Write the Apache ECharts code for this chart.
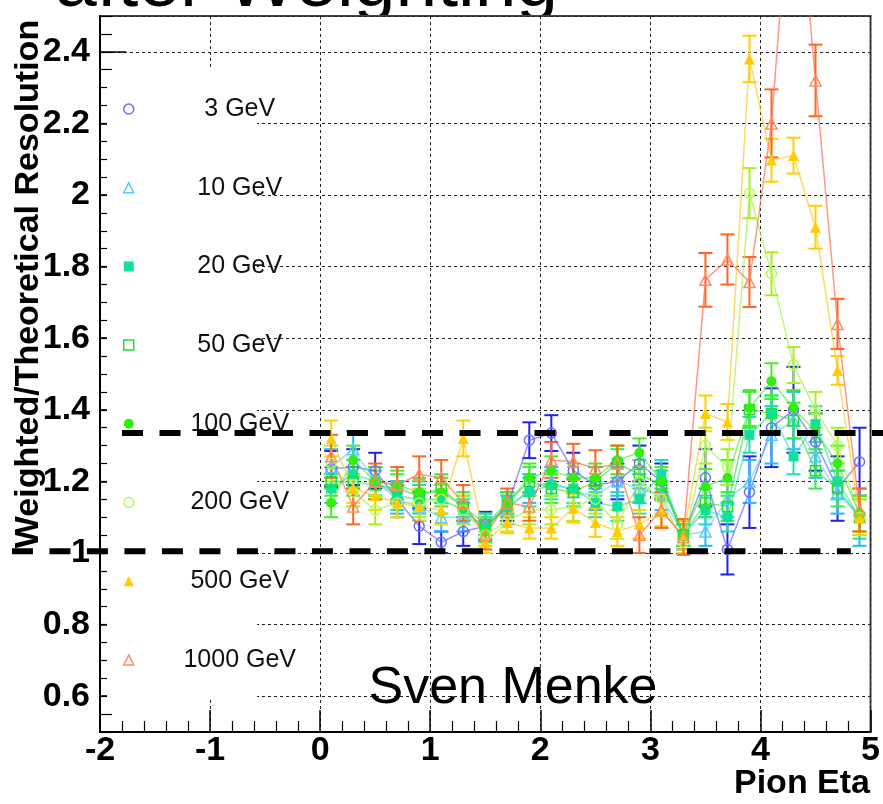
<!DOCTYPE html>
<html><head><meta charset="utf-8">
<script src="https://cdn.jsdelivr.net/npm/echarts@6/dist/echarts.min.js"></script>
<style>html,body{margin:0;padding:0;background:#fff}#c{width:883px;height:804px}</style>
</head><body><div id="c"></div>
<script>
// ---- data ----
const eta = [0.1,0.3,0.5,0.7,0.9,1.1,1.3,1.5,1.7,1.9,2.1,2.3,2.5,2.7,2.9,3.1,3.3,3.5,3.7,3.9,4.1,4.3,4.5,4.7,4.9];
const names = ['3 GeV','10 GeV','20 GeV','50 GeV','100 GeV','200 GeV','500 GeV','1000 GeV'];
const xTicks = [-2,-1,0,1,2,3,4,5];
const yTicks = [0.6,0.8,1,1.2,1.4,1.6,1.8,2,2.2,2.4];
const refLines = [1.335, 1.005];

const v3    = [1.235,1.24,1.23,1.15,1.075,1.03,1.06,1.075,1.13,1.315,1.335,1.23,1.19,1.2,1.25,1.2,1.05,1.21,1.01,1.17,1.35,1.40,1.31,1.18,1.255];
const err3  = [0.05,0.05,0.05,0.05,0.05,0.03,0.04,0.04,0.04,0.05,0.05,0.05,0.05,0.05,0.05,0.05,0.04,0.08,0.07,0.10,0.11,0.12,0.08,0.09,0.095];
const v10   = [1.24,1.29,1.2,1.15,1.13,1.10,1.10,1.08,1.12,1.18,1.20,1.17,1.16,1.20,1.18,1.16,1.05,1.06,1.15,1.20,1.33,1.37,1.27,1.17,1.10];
const err10 = [0.05,0.05,0.04,0.04,0.04,0.04,0.04,0.03,0.04,0.04,0.04,0.04,0.04,0.04,0.04,0.04,0.03,0.04,0.05,0.06,0.08,0.08,0.06,0.06,0.08];
const v20   = [1.18,1.22,1.20,1.16,1.15,1.15,1.12,1.07,1.13,1.17,1.19,1.18,1.14,1.13,1.15,1.22,1.05,1.12,1.10,1.33,1.39,1.27,1.36,1.20,1.10];
const err20 = [0.04,0.04,0.04,0.04,0.04,0.04,0.03,0.03,0.03,0.04,0.04,0.04,0.04,0.04,0.04,0.04,0.03,0.04,0.04,0.05,0.05,0.05,0.05,0.05,0.06];
const v50   = [1.20,1.20,1.19,1.18,1.16,1.18,1.13,1.08,1.14,1.20,1.18,1.17,1.20,1.25,1.22,1.19,1.05,1.14,1.13,1.40,1.39,1.37,1.23,1.18,1.10];
const err50 = [0.04,0.04,0.04,0.04,0.04,0.04,0.03,0.03,0.03,0.04,0.04,0.04,0.04,0.04,0.04,0.04,0.03,0.04,0.04,0.05,0.05,0.05,0.05,0.05,0.05];
const v100  = [1.14,1.26,1.20,1.19,1.17,1.17,1.13,1.06,1.14,1.21,1.23,1.21,1.21,1.26,1.28,1.20,1.05,1.185,1.21,1.405,1.48,1.405,1.34,1.25,1.11];
const err100= [0.04,0.04,0.04,0.04,0.04,0.04,0.04,0.03,0.03,0.04,0.04,0.04,0.04,0.04,0.04,0.04,0.03,0.05,0.05,0.05,0.05,0.05,0.05,0.05,0.05];
const v200  = [1.25,1.17,1.12,1.14,1.14,1.15,1.12,1.05,1.09,1.12,1.12,1.13,1.15,1.08,1.20,1.15,1.03,1.30,1.24,2.005,1.78,1.525,1.40,1.30,1.10];
const err200= [0.05,0.04,0.04,0.04,0.04,0.04,0.04,0.03,0.03,0.04,0.04,0.04,0.04,0.04,0.04,0.04,0.03,0.05,0.05,0.07,0.06,0.05,0.05,0.05,0.05];
const v500  = [1.32,1.18,1.16,1.14,1.13,1.12,1.32,1.03,1.085,1.07,1.07,1.125,1.085,1.06,1.08,1.115,1.05,1.39,1.366,2.38,2.097,2.11,1.91,1.51,1.10];
const err500= [0.05,0.04,0.04,0.04,0.04,0.04,0.05,0.03,0.03,0.03,0.03,0.04,0.04,0.04,0.04,0.04,0.04,0.05,0.05,0.065,0.06,0.05,0.06,0.04,0.05];
const v1000 = [1.27,1.13,1.20,1.19,1.22,1.21,1.14,1.05,1.14,1.13,1.26,1.255,1.237,1.25,1.05,1.12,1.045,1.763,1.82,1.757,2.20,3.0,2.32,1.64,1.12];
const err1000=[0.06,0.05,0.05,0.05,0.05,0.05,0.05,0.04,0.04,0.04,0.05,0.05,0.05,0.05,0.05,0.05,0.05,0.075,0.07,0.07,0.095,0.1,0.1,0.07,0.06];

const values = [v3,v10,v20,v50,v100,v200,v500,v1000];
const errors = [err3,err10,err20,err50,err100,err200,err500,err1000];

// ---- styles ----
const markerColors = ['#6f6fff','#55ccff','#11e0a0','#22dd33','#33ee11','#b0ff50','#ffcc00','#ff8a6a'];
const lineColors = ['rgba(80,80,255,0.6)','rgba(90,200,255,0.6)','rgba(30,220,160,0.6)','rgba(40,220,60,0.6)','rgba(60,235,30,0.6)','rgba(170,240,80,0.7)','rgba(255,200,40,0.7)','rgba(255,110,80,0.7)'];
const errColors = ['#2222ee','#22bbff','#22ddbb','#33ee44','#44ee22','#aaee22','#ffd000','#ff6622'];
const symbols = ['circle','triangle','rect','rect','circle','circle','triangle','triangle'];
const hollow = [true,true,false,true,false,true,false,true];
const FONT = '"Liberation Sans", Arial, Helvetica, sans-serif';

function errRender(color){
  return function(params, api){
    const x = api.value(0), y = api.value(1), e = api.value(2);
    const top = api.coord([x, y + e]), bot = api.coord([x, y - e]);
    const cs = params.coordSys;
    const yMin = cs.y, yMax = cs.y + cs.height;
    const t = Math.max(top[1], yMin), b = Math.min(bot[1], yMax);
    if (t >= b) return null;
    const st = {stroke: color, lineWidth: 2};
    const ch = [{type:'line', shape:{x1:top[0], y1:t, x2:top[0], y2:b}, style: st}];
    if (top[1] >= yMin) ch.push({type:'line', shape:{x1:top[0]-7, y1:top[1], x2:top[0]+7, y2:top[1]}, style: st});
    if (bot[1] <= yMax) ch.push({type:'line', shape:{x1:bot[0]-7, y1:bot[1], x2:bot[0]+7, y2:bot[1]}, style: st});
    return {type:'group', children: ch};
  };
}

function itemStyleFor(i){
  return hollow[i]
    ? {color:'rgba(255,255,255,0)', borderColor: markerColors[i], borderWidth: 1.5}
    : {color: markerColors[i], borderWidth: 0};
}

const series = [];
names.forEach((n, i) => {
  const pts = eta.map((x, k) => [x, values[i][k], errors[i][k]]);
  series.push({type:'custom', name:n, data:pts, renderItem: errRender(errColors[i]), encode:{x:0, y:1}, silent:true, z:2});
  series.push({type:'line', name:n, data: eta.map((x,k)=>[x, values[i][k]]), symbol: symbols[i],
    symbolSize: symbols[i]==='triangle' ? 11 : 10, showSymbol:true,
    lineStyle:{color: lineColors[i], width:1.5}, itemStyle: itemStyleFor(i), clip:true, z:2, silent:true});
});

const chart = echarts.init(document.getElementById('c'), null, {renderer:'canvas'});
const gridRect = {left:100, right:11, top:16, bottom:72};
const axisLbl = {fontSize:34, fontWeight:'bold', color:'#000', fontFamily: FONT};
const dotted = {color:'#222', type:[3,3], width:1};

chart.setOption({
  animation:false,
  backgroundColor:'#fff',
  grid: Object.assign({show:true, backgroundColor:'#fff', borderColor:'#444', borderWidth:2}, gridRect),
  xAxis: {type:'value', min: xTicks[0], max: xTicks[xTicks.length-1], interval:1,
    axisLine:{show:true, onZero:false, lineStyle:{color:'#000', width:2}},
    axisTick:{inside:true, length:22, lineStyle:{color:'#000', width:1.5}},
    minorTick:{show:true, splitNumber:5, length:11, lineStyle:{color:'#000', width:1.2}},
    axisLabel: Object.assign({margin:2, formatter: v => String(v)}, axisLbl),
    splitLine:{show:true, lineStyle: dotted}},
  yAxis: [
    {type:'value', min:0.5, max:2.5, minInterval:0.2, maxInterval:0.2, splitNumber:10, position:'left',
     axisLine:{show:true, onZero:false, lineStyle:{color:'#000', width:2}},
     axisTick:{inside:true, length:26, lineStyle:{color:'#000', width:1.5}},
     axisLabel: Object.assign({margin:10, showMinLabel:false, showMaxLabel:false,
       formatter: v => yTicks.some(t => Math.abs(t - v) < 1e-6) ? String(+v.toFixed(1)) : ''}, axisLbl),
     splitLine:{show:true, lineStyle: dotted}},
    {type:'value', min:0.5, max:2.5, interval:0.05, position:'left', offset:0,
     axisLine:{show:false, onZero:false}, axisTick:{inside:true, length:12, lineStyle:{color:'#000', width:1.2}},
     axisLabel:{show:false}, splitLine:{show:false}}
  ],
  legend: {orient:'vertical', left:118, top:91, itemGap:52.7, itemWidth:10, itemHeight:10,
    selectedMode:false, z:4,
    data: names.map((n,i) => ({name:n, icon: symbols[i]==='rect' ? 'rect' : symbols[i], itemStyle: itemStyleFor(i)})),
    formatter: n => '{a|' + n + '}',
    textStyle:{rich:{a:{width:202, align:'center', fontSize:25, fontFamily:FONT, color:'#111', lineHeight:26, height:26}}}},
  series: series
});

// annotations placed through the chart's own coordinate conversion
const conv = p => chart.convertToPixel({gridIndex:0}, p);
const up0 = conv([-1.8, refLines[0]]), up1 = conv([5.2, refLines[0]]);
const lo0 = conv([-2.8, refLines[1]]), lo1 = conv([4.82, refLines[1]]);
const dash = {stroke:'#000', lineWidth:6, lineDash:[21,16.5]};

chart.setOption({
  graphic: [
    {type:'text', z:-5, x:55, y:-15, style:{text:'after Weighting', font:'75px ' + FONT, fill:'#000', align:'left', verticalAlign:'middle'}},
    {type:'rect', z:3, shape:{x:107, y:70, width:150, height:629}, style:{fill:'#fff'}},
    {type:'line', z:6, shape:{x1:up0[0], y1:up0[1], x2:up1[0], y2:up1[1]}, style: dash},
    {type:'line', z:6, shape:{x1:lo0[0], y1:lo0[1], x2:lo1[0], y2:lo1[1]}, style: dash},
    {type:'text', z:6, x:29, y:284, rotation: Math.PI/2, style:{text:'Weighted/Theoretical Resolution', font:'bold 34px ' + FONT, fill:'#000', align:'center', verticalAlign:'middle'}},
    {type:'text', z:6, x:870, y:784, style:{text:'Pion Eta', font:'bold 34px ' + FONT, fill:'#000', align:'right', verticalAlign:'middle'}},
    {type:'text', z:6, x:513, y:689, style:{text:'Sven Menke', font:'52px ' + FONT, fill:'#000', align:'center', verticalAlign:'middle'}}
  ]
});
</script></body></html>
